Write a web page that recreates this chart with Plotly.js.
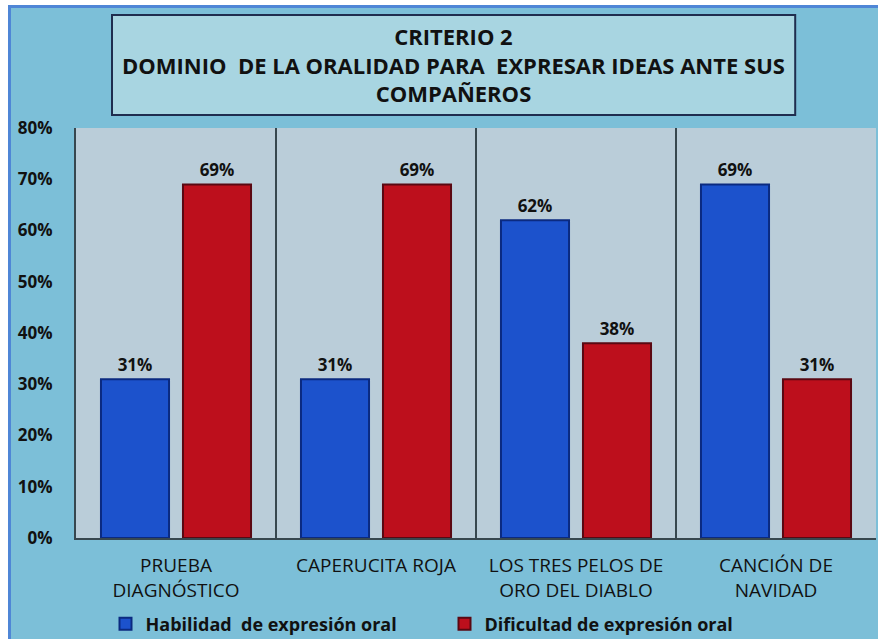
<!DOCTYPE html>
<html>
<head>
<meta charset="utf-8">
<script src="https://cdn.plot.ly/plotly-3.0.1.min.js"></script>
<style>
  html, body { margin: 0; padding: 0; background: #ffffff; width: 878px; height: 639px; overflow: hidden; }
  #chart { position: absolute; left: 8px; top: 5px; width: 867px; height: 631px;
           border-left: 3px solid #4f86d6; border-top: 3px solid #4f86d6; }
</style>
</head>
<body>
<div id="chart"></div>
<script>
const categories = ["PRUEBA<br>DIAGNÓSTICO", "CAPERUCITA ROJA", "LOS TRES PELOS DE<br>ORO DEL DIABLO", "CANCIÓN DE<br>NAVIDAD"];
const habilidad = [0.31, 0.31, 0.62, 0.69];
const dificultad = [0.69, 0.69, 0.38, 0.31];
const seriesNames = ["Habilidad  de expresión oral", "Dificultad de expresión oral"];
const yTicks = [0, 0.1, 0.2, 0.3, 0.4, 0.5, 0.6, 0.7, 0.8];
const titleText = "CRITERIO 2<br>DOMINIO  DE LA ORALIDAD PARA  EXPRESAR IDEAS ANTE SUS<br>COMPAÑEROS";

const FONT = "'Open Sans', sans-serif";
const labelFont = {family: FONT, size: 17, color: "#111111", weight: 700};

const traces = [
  {
    type: "bar", name: seriesNames[0], x: categories, y: habilidad,
    marker: {color: "#1c52cc", line: {color: "#0b2a80", width: 2}},
    text: habilidad.map(v => Math.round(v * 100) + "%"),
    textposition: "outside", textfont: labelFont, cliponaxis: false
  },
  {
    type: "bar", name: seriesNames[1], x: categories, y: dificultad,
    marker: {color: "#bd0f1c", line: {color: "#5a0812", width: 2}},
    text: dificultad.map(v => Math.round(v * 100) + "%"),
    textposition: "outside", textfont: labelFont, cliponaxis: false
  }
];

const sepShapes = [0.5, 1.5, 2.5].map(x => ({
  type: "line", xref: "x", yref: "paper", x0: x, x1: x, y0: 0, y1: 1,
  line: {color: "#37474f", width: 2}, layer: "below"
}));

const layout = {
  width: 867, height: 631,
  margin: {l: 65, r: 2, t: 120, b: 101},
  paper_bgcolor: "#7cbfd8",
  plot_bgcolor: "#bacdd9",
  font: {family: FONT, color: "#111111"},
  barmode: "group",
  bargap: 0.18,
  bargroupgap: 0.17,
  showlegend: true,
  annotations: [{
    text: titleText, xref: "paper", yref: "paper", x: 0.472, y: 1.1537,
    xanchor: "center", yanchor: "middle", showarrow: false,
    font: {family: FONT, size: 22, color: "#111111", weight: 700}
  }],
  xaxis: {
    showgrid: false, zeroline: false,
    showline: true, linecolor: "#37474f", linewidth: 2,
    ticks: "", ticklabelstandoff: 9,
    tickfont: {family: FONT, size: 19, color: "#111111"},
    fixedrange: true, automargin: false
  },
  yaxis: {
    range: [0, 0.8], tickvals: yTicks, tickformat: ".0%",
    showgrid: false, zeroline: false,
    showline: true, linecolor: "#37474f", linewidth: 2,
    ticks: "", ticklabelstandoff: 18,
    tickfont: {family: FONT, size: 17, color: "#111111", weight: 700},
    fixedrange: true, automargin: false
  },
  legend: {
    orientation: "h", xref: "container", yref: "container",
    x: 0.109, xanchor: "left", y: 0.0238, yanchor: "middle",
    font: {family: FONT, size: 18, color: "#111111", weight: 700},
    bgcolor: "rgba(0,0,0,0)", entrywidth: 294, itemwidth: 30, traceorder: "normal"
  },
  shapes: [
    {type: "rect", xref: "paper", yref: "paper", x0: 0.045, x1: 0.899, y0: 1.0317, y1: 1.2756,
     fillcolor: "#a8d5e1", line: {color: "#1f2d4f", width: 2}, layer: "below"}
  ].concat(sepShapes)
};

Plotly.newPlot("chart", traces, layout, {displayModeBar: false, staticPlot: true});
</script>
</body>
</html>
